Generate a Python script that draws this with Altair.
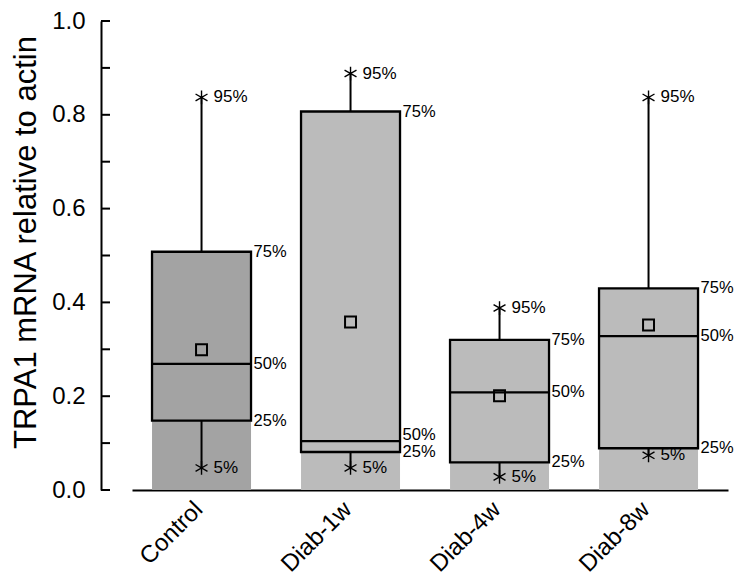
import altair as alt
import pandas as pd

groups = ["Control", "Diab-1w", "Diab-4w", "Diab-8w"]
p5 = [0.047, 0.047, 0.028, 0.074]
p25 = [0.148, 0.081, 0.059, 0.089]
p50 = [0.269, 0.104, 0.208, 0.328]
mean = [0.299, 0.358, 0.201, 0.352]
p75 = [0.508, 0.807, 0.320, 0.430]
p95 = [0.837, 0.888, 0.388, 0.837]
box_colors = ["#a3a3a3", "#bbbbbb", "#bbbbbb", "#bbbbbb"]
y_ticks = [round(i * 0.1, 1) for i in range(11)]
y_labels = [0.0, 0.2, 0.4, 0.6, 0.8, 1.0]

FONT = "Liberation Sans"

df = pd.DataFrame({"group": groups, "p5": p5, "p25": p25, "p50": p50,
                   "mean": mean, "p75": p75, "p95": p95})

ends = pd.DataFrame(
    [{"group": g, "v": v, "lab": "95%"} for g, v in zip(groups, p95)] +
    [{"group": g, "v": v, "lab": "5%"} for g, v in zip(groups, p5)]
)
# keep the 50% label clear of the 25% label when the two values are close
min_gap = 0.037
boxlabs = pd.DataFrame(
    [{"group": g, "v": v, "lab": "75%"} for g, v in zip(groups, p75)] +
    [{"group": g, "v": max(m, q + min_gap), "lab": "50%"} for g, m, q in zip(groups, p50, p25)] +
    [{"group": g, "v": v, "lab": "25%"} for g, v in zip(groups, p25)]
)
ticks = pd.DataFrame({"t": y_ticks})

xscale = alt.Scale(domain=groups, paddingInner=0.3356, paddingOuter=0.2718, align=0.63)
yscale = alt.Scale(domain=[0, 1], nice=False, zero=True)

X = alt.X("group:N", scale=xscale, sort=groups, title=None,
          axis=alt.Axis(labelAngle=-45, labelAlign="right", labelBaseline="top",
                        labelFontSize=24, labelFont=FONT, labelColor="black",
                        labelPadding=7, labelOffset=-11, ticks=False, labelLimit=300,
                        domainColor="black", domainWidth=2,
                        domainDash=[0, 31, 600, 100]))
Y = alt.Y("p25:Q", scale=yscale,
          title="TRPA1 mRNA relative to actin",
          axis=alt.Axis(values=y_labels, format=".1f", grid=False, ticks=False,
                        labelFontSize=24, labelFont=FONT, labelColor="black",
                        labelPadding=16, domainColor="black", domainWidth=2,
                        titleFontSize=31, titleFont=FONT, titleFontWeight="normal",
                        titleColor="black", titlePadding=9, titleY=221))

color = alt.Color("group:N", scale=alt.Scale(domain=groups, range=box_colors), legend=None)

base = alt.Chart(df)

lower_bar = base.mark_bar(strokeWidth=0).encode(x=X, y=Y, y2=alt.datum(0), color=color)
box = base.mark_bar(stroke="black", strokeWidth=2.3).encode(
    x=X, y=alt.Y("p25:Q", scale=yscale), y2="p75:Q", color=color)
median = base.mark_tick(color="black", thickness=2.3, size=99, opacity=1).encode(
    x=X, y=alt.Y("p50:Q", scale=yscale))
wh_up = base.mark_rule(color="black", strokeWidth=2).encode(
    x=X, y=alt.Y("p75:Q", scale=yscale), y2="p95:Q")
wh_lo = base.mark_rule(color="black", strokeWidth=2).encode(
    x=X, y=alt.Y("p5:Q", scale=yscale), y2="p25:Q")

star_path = "M0,-1L0,1M-0.866,-0.5L0.866,0.5M-0.866,0.5L0.866,-0.5"
stars = alt.Chart(ends).mark_point(shape=star_path, filled=False, stroke="black",
                                   strokeWidth=1.4, size=190, opacity=1).encode(
    x=X, y=alt.Y("v:Q", scale=yscale))
means = base.mark_point(shape="square", filled=False, stroke="black",
                        strokeWidth=2, size=120, opacity=1).encode(
    x=X, y=alt.Y("mean:Q", scale=yscale))

end_text = alt.Chart(ends).mark_text(align="left", baseline="middle", dx=12,
                                     fontSize=17, font=FONT, color="black").encode(
    x=X, y=alt.Y("v:Q", scale=yscale), text="lab:N")
box_text = alt.Chart(boxlabs).mark_text(align="left", baseline="middle", dx=52,
                                        fontSize=16.5, font=FONT, color="black").encode(
    x=X, y=alt.Y("v:Q", scale=yscale), text="lab:N")

yticks = alt.Chart(ticks).mark_rule(color="black", strokeWidth=2).encode(
    x=alt.value(0), x2=alt.value(9), y=alt.Y("t:Q", scale=yscale))

chart = alt.layer(lower_bar, box, median, wh_up, wh_lo, stars, means,
                  end_text, box_text, yticks).properties(
    width=627, height=469,
    autosize=alt.AutoSizeParams(type="none"),
    padding={"left": 93, "top": 13, "right": 6, "bottom": 87},
).configure_view(stroke=None)

chart.save("out.html", embed_options={"renderer": "svg", "actions": False})
